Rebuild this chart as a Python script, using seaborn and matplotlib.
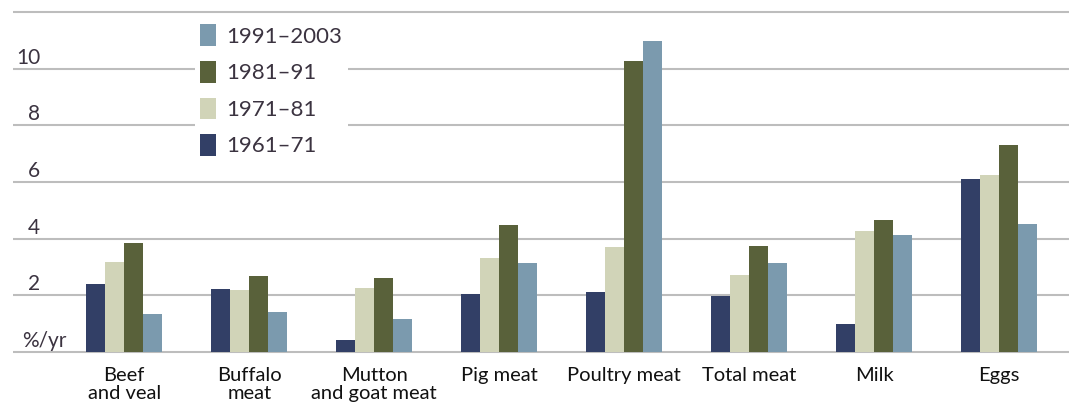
import numpy as np
import pandas as pd
import seaborn as sns
import matplotlib.pyplot as plt
from matplotlib.transforms import offset_copy

categories = ["Beef\nand veal", "Buffalo\nmeat", "Mutton\nand goat meat", "Pig meat",
              "Poultry meat", "Total meat", "Milk", "Eggs"]
periods = ["1961–71", "1971–81", "1981–91", "1991–2003"]
g1961_71 = [2.39, 2.22, 0.42, 2.04, 2.11, 1.97, 0.99, 6.09]
g1971_81 = [3.17, 2.18, 2.26, 3.31, 3.70, 2.71, 4.26, 6.23]
g1981_91 = [3.84, 2.68, 2.60, 4.47, 10.28, 3.73, 4.65, 7.29]
g1991_2003 = [1.34, 1.41, 1.16, 3.13, 10.99, 3.13, 4.12, 4.51]
yticks = [2, 4, 6, 8, 10]

colors = ["#323f66", "#d1d4b8", "#59613a", "#7b9aae"]
text_color = "#3b3340"

df = pd.DataFrame({
    "item": categories * 4,
    "period": np.repeat(periods, len(categories)),
    "growth": g1961_71 + g1971_81 + g1981_91 + g1991_2003,
})

plt.rcParams['font.family'] = ['Lato', 'DejaVu Sans']

fig = plt.figure(figsize=(10.69, 4.04), dpi=100)
# axes placed so that 0 sits at y=352px and 12 at y=12px
ylo, yhi = -0.1, 12.1
px_per = 340 / 12
bot_px = 352 + 0.1 * px_per
top_px = 12 - 0.1 * px_per
ax = fig.add_axes([13 / 1069, (404 - bot_px) / 404, 1056 / 1069, (bot_px - top_px) / 404])

sns.barplot(data=df, x="item", y="growth", hue="period", hue_order=periods,
            palette=colors, width=0.61, ax=ax, zorder=3, saturation=1)

ax.set_ylim(ylo, yhi)
ax.set_xlim(-0.89, 7.56)
ax.set_yticks(range(0, 13, 2))
ax.yaxis.grid(True, color="#bdbdbd", linewidth=1.5, zorder=0)
ax.set_axisbelow(True)
ax.tick_params(axis="y", length=0, labelleft=False)
ax.tick_params(axis="x", length=0, pad=9, labelsize=14.5, labelcolor="#111111")
for lab in ax.get_xticklabels():
    lab.set_linespacing(1.05)
for s in ax.spines.values():
    s.set_visible(False)
ax.set_xlabel("")
ax.set_ylabel("")

trans = offset_copy(ax.get_yaxis_transform(), fig=fig, y=3.5, units="points")
for v in yticks:
    ax.text(0.0256, v, str(v), transform=trans, ha="right", va="baseline",
            fontsize=15, color=text_color)
ax.text(0.0085, 0, "%/yr", transform=trans, ha="left", va="baseline",
        fontsize=15, color=text_color)

handles, labels = ax.get_legend_handles_labels()
leg = ax.legend(handles[::-1], labels[::-1], loc="upper left",
                bbox_to_anchor=(0.172, 0.972), frameon=True, fontsize=16,
                handlelength=0.72, handleheight=1.12, handletextpad=0.45,
                labelspacing=0.64, borderpad=0.25, borderaxespad=0)
leg.get_frame().set_facecolor("white")
leg.get_frame().set_edgecolor("none")
leg.get_frame().set_alpha(1)
leg.get_frame().set_boxstyle("square", pad=0)
for t in leg.get_texts():
    t.set_color(text_color)

fig.savefig("out.png", dpi=100)
